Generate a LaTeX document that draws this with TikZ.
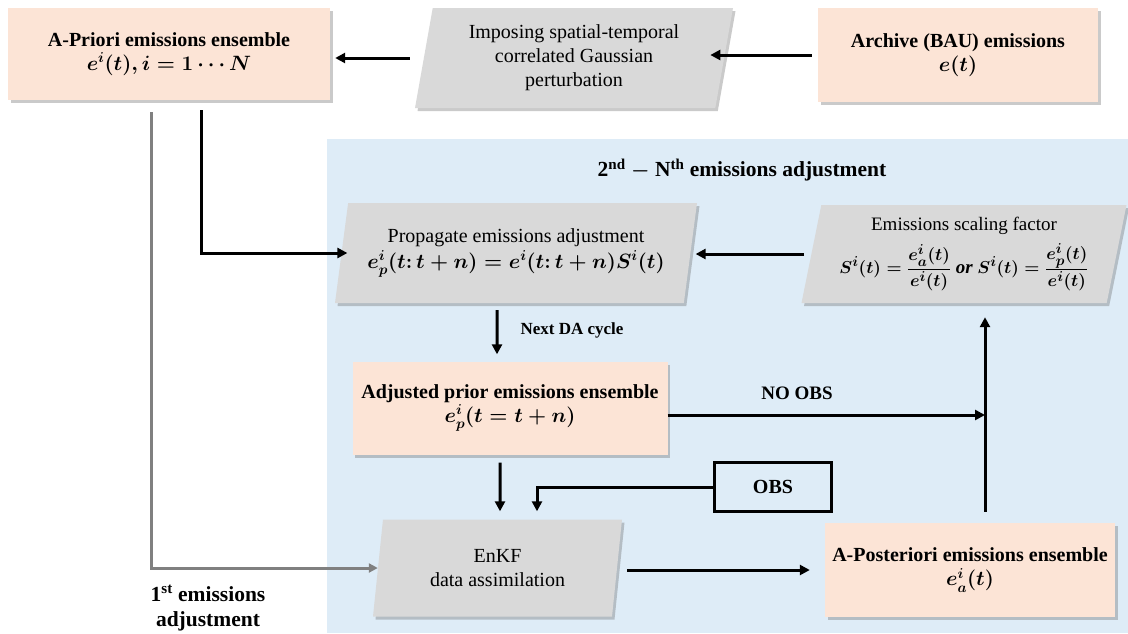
\documentclass[tikz,border=0pt]{standalone}
\usepackage{fontspec}
\setmainfont{Liberation Serif}
\usetikzlibrary{shapes.geometric,shadows,arrows.meta}
\definecolor{peach}{RGB}{252,228,214}
\definecolor{paragray}{RGB}{217,217,217}
\definecolor{panelblue}{RGB}{222,236,247}
\definecolor{linegray}{RGB}{128,128,128}
\begin{document}
\begin{tikzpicture}[x=1pt,y=-1pt,
  shade/.style={drop shadow={shadow xshift=2.5pt,shadow yshift=-3pt,opacity=0.35,fill=black!60}},
  peachbox/.style={rectangle,fill=peach,shade,align=center,font=\fontsize{20}{24}\selectfont\bfseries\boldmath,inner sep=0pt},
  parabox/.style={trapezium,trapezium left angle=75,trapezium right angle=105,trapezium stretches body,fill=paragray,shade,align=center,font=\fontsize{20}{24}\selectfont\boldmath,inner sep=0pt},
  arr/.style={line width=3pt,-{Triangle[length=10pt,width=10pt]}},
  garr/.style={line width=3pt,draw=linegray,-{Triangle[length=9pt,width=9pt]}},
  lbl/.style={font=\fontsize{21.5}{25}\selectfont\bfseries\boldmath,align=center}
]
\useasboundingbox (0,0) rectangle (1128,633);
\fill[panelblue] (327,139) rectangle (1128,633);

\node[peachbox,minimum width=322pt,minimum height=92pt] (apri) at (169,54)
  {A-Priori emissions ensemble\\ $e^{i}(t), i = 1\cdots N$};
\node[parabox,minimum width=318pt,minimum height=100pt] (imp) at (574,58)
  {Imposing spatial-temporal\\correlated Gaussian\\perturbation};
\node[peachbox,minimum width=280pt,minimum height=94pt] (arch) at (958,55)
  {Archive (BAU) emissions\\ $e(t)$};

\node[lbl] (t2) at (742,170) {2\textsuperscript{nd} $-$ N\textsuperscript{th} emissions adjustment};

\node[parabox,minimum width=362pt,minimum height=100pt] (prop) at (516,253)
  {Propagate emissions adjustment\\[2pt] $e^{i}_{p}(t\colon t+n) = e^{i}(t\colon t+n)S^{i}(t)$};
\node[parabox,minimum width=325pt,minimum height=98pt,font=\fontsize{19}{22}\selectfont\boldmath] (scal) at (964,254)
  {Emissions scaling factor\\[8pt] $\displaystyle S^{i}(t) = \frac{e^{i}_{a}(t)}{e^{i}(t)}\ \mathit{or}\ S^{i}(t) = \frac{e^{i}_{p}(t)}{e^{i}(t)}$};

\node[lbl,font=\fontsize{17}{20}\selectfont\bfseries,anchor=west] (nda) at (517,330) {Next DA cycle};

\node[peachbox,minimum width=315pt,minimum height=93pt] (adj) at (510,408)
  {Adjusted prior emissions ensemble\\ $e^{i}_{p}(t = t + n)$};
\node[lbl,font=\fontsize{19}{22}\selectfont\bfseries] (noobs) at (797,393) {NO OBS};
\coordinate (j) at (985,415);

\node[draw,line width=3pt,minimum width=117pt,minimum height=49pt,inner sep=0pt,font=\fontsize{20}{24}\selectfont\bfseries] (obs) at (773,487) {OBS};

\node[parabox,minimum width=249pt,minimum height=97pt] (enkf) at (497.5,568)
  {EnKF\\data assimilation};
\node[peachbox,minimum width=290pt,minimum height=94pt] (apost) at (970,570)
  {A-Posteriori emissions ensemble\\ $e^{i}_{a}(t)$};

\node[lbl] (t1) at (208,608) {1\textsuperscript{st} emissions\\adjustment};

% connectors
\draw[arr,shorten <=14pt,shorten >=5pt] (imp.west) -- (imp.west -| apri.east);
\draw[arr,shorten <=6pt,shorten >=-14pt] (arch.west) -- (arch.west -| imp.east);
\draw[arr,shorten <=7pt,shorten >=5pt] (scal.west) -- (scal.west -| prop.east);
\draw[arr] ([xshift=-19pt,yshift=-7pt]prop.south) -- ([xshift=-13pt,yshift=7pt]adj.north);
\draw[arr] ([xshift=-10pt,yshift=-8pt]adj.south) -- ([xshift=2.5pt,yshift=8pt]enkf.north);
\draw[arr,shorten >=8pt] (obs.west) -| ([xshift=39.5pt]enkf.north);
\draw[arr] ([yshift=-7pt]adj.east) -- (j);
\draw[arr,shorten <=11pt,shorten >=14pt] (j |- apost.north) -- (j |- scal.south);
\draw[arr,shorten <=10pt,shorten >=15pt] (enkf.east |- apost.west) -- (apost.west);
\draw[garr] ([xshift=-18pt,yshift=-12pt]apri.south) |- (enkf.west);
\draw[arr,shorten >=-6pt] ([xshift=32pt,yshift=-10pt]apri.south) |- (prop.west);
\end{tikzpicture}
\end{document}
